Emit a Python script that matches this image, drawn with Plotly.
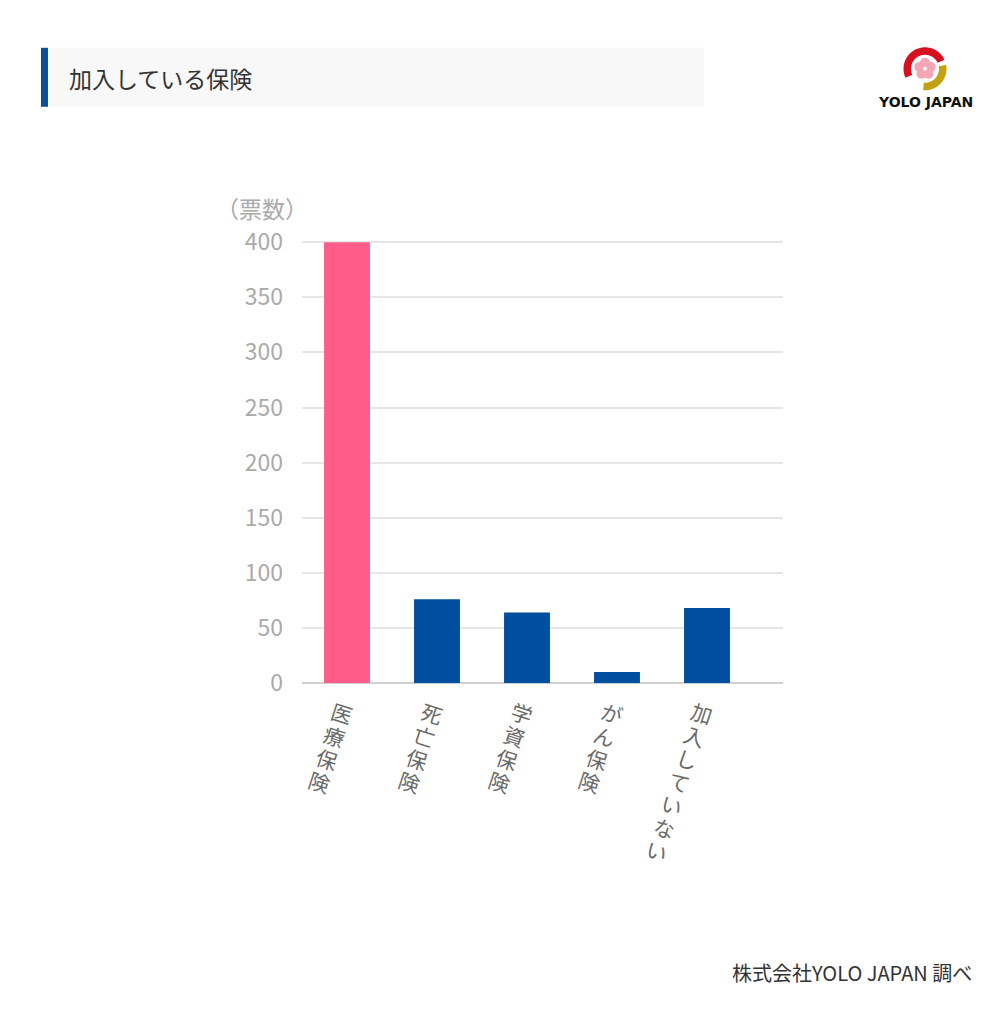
import math
import plotly.graph_objects as go

# ---- data ----
categories = ["医療保険", "死亡保険", "学資保険", "がん保険", "加入していない"]
votes = [400, 76, 64, 10, 68]
bar_colors = ["#FF5C8A", "#004EA0", "#004EA0", "#004EA0", "#004EA0"]
y_ticks = [0, 50, 100, 150, 200, 250, 300, 350, 400]

title_text = "加入している保険"
unit_text = "（票数）"
source_text = "株式会社YOLO JAPAN 調べ"

W, H = 1000, 1021
OFF = 8  # page body margin
PL, PR, PB = 302, 783, 683.5
PX_PER_UNIT = 441 / 400
Y_MAX = 402
PT = PB - Y_MAX * PX_PER_UNIT
FONT = "Noto Sans CJK JP"

L, R, T, B = PL - OFF, PR - OFF, PT - OFF, PB - OFF


def px(x):
    return (x - PL) / (PR - PL)


def py(y):
    return (PB - y) / (PB - PT)


tick_text = ["<br>".join(f'<span style="font-size:21px">{ch}</span>' for ch in c) for c in categories]

fig = go.Figure(go.Bar(
    x=list(range(len(categories))),
    y=votes,
    marker=dict(color=bar_colors, line=dict(width=0)),
    width=0.51,
    hoverinfo="skip",
))

shapes = [
    dict(type="rect", xref="paper", yref="paper", x0=px(48), x1=px(704), y0=py(48), y1=py(107),
         fillcolor="#F8F8F8", line=dict(width=0), layer="below"),
    dict(type="rect", xref="paper", yref="paper", x0=px(41), x1=px(48), y0=py(48), y1=py(107),
         fillcolor="#0A4F9C", line=dict(width=0), layer="below"),
]


def arc_path(cx, cy, r_out, r_in, a0, a1, n=40):
    pts = []
    for i in range(n + 1):
        a = math.radians(a0 + (a1 - a0) * i / n)
        pts.append((cx + r_out * math.cos(a), cy - r_out * math.sin(a)))
    for i in range(n + 1):
        a = math.radians(a1 - (a1 - a0) * i / n)
        pts.append((cx + r_in * math.cos(a), cy - r_in * math.sin(a)))
    return "M " + " L ".join(f"{px(x):.5f},{py(y):.5f}" for x, y in pts) + " Z"


cx, cy = 925, 69
shapes.append(dict(type="path", xref="paper", yref="paper", path=arc_path(cx, cy, 21.5, 14, 25, 205),
                   fillcolor="#D7101F", line=dict(width=0)))
shapes.append(dict(type="path", xref="paper", yref="paper", path=arc_path(cx, cy, 21.5, 14, -95, 10),
                   fillcolor="#C2A20E", line=dict(width=0)))
for k in range(5):
    a = math.radians(90 + 72 * k)
    pxx = cx + 6 * math.cos(a)
    pyy = cy - 6 * math.sin(a)
    shapes.append(dict(type="circle", xref="paper", yref="paper",
                       x0=px(pxx - 5), x1=px(pxx + 5), y0=py(pyy + 5), y1=py(pyy - 5),
                       fillcolor="#F4A6B4", line=dict(width=0)))
shapes.append(dict(type="circle", xref="paper", yref="paper",
                   x0=px(cx - 2), x1=px(cx + 2), y0=py(cy + 2), y1=py(cy - 2),
                   fillcolor="#FFFFFF", line=dict(width=0)))

annotations = [
    dict(text=title_text, xref="paper", yref="paper", x=px(67), y=py(78), xanchor="left", yanchor="middle",
         showarrow=False, font=dict(family=FONT, size=23, color="#333333")),
    dict(text=unit_text, xref="paper", yref="paper", x=px(310), y=py(208), xanchor="right", yanchor="middle",
         showarrow=False, font=dict(family=FONT, size=23, color="#AAAAAA")),
    dict(text=source_text, xref="paper", yref="paper", x=px(974), y=py(973), xanchor="right", yanchor="middle",
         showarrow=False, font=dict(family=FONT, size=20, color="#333333")),
    dict(text="<b>YOLO JAPAN</b>", xref="paper", yref="paper", x=px(925), y=py(102), xanchor="center", yanchor="middle",
         showarrow=False, font=dict(family="DejaVu Sans", size=14, color="#111111")),
]

fig.update_layout(
    width=W, height=H,
    margin=dict(l=L, r=W - R, t=T, b=H - B, pad=0),
    paper_bgcolor="white", plot_bgcolor="white",
    showlegend=False,
    font=dict(family=FONT),
    shapes=shapes,
    annotations=annotations,
)
fig.update_xaxes(
    range=[-0.5, -0.5 + (PR - PL) / 90],
    tickvals=list(range(len(categories))),
    ticktext=tick_text,
    tickangle=18,
    tickfont=dict(family=FONT, size=18.6, color="#6A6A6A"),
    showgrid=False, zeroline=False, showline=False, ticks="",
    ticklabelshift=-15, ticklabelstandoff=16,
    fixedrange=True,
)
fig.update_yaxes(
    range=[0, Y_MAX],
    tickvals=y_ticks,
    tickfont=dict(family=FONT, size=23, color="#AAAAAA"),
    showgrid=True, gridcolor="#E6E6E6", gridwidth=1.5,
    zeroline=True, zerolinecolor="#D0D0D0", zerolinewidth=1.5,
    showline=False, ticks="", ticklabelstandoff=18,
    fixedrange=True,
)
fig.write_html("out.html")
